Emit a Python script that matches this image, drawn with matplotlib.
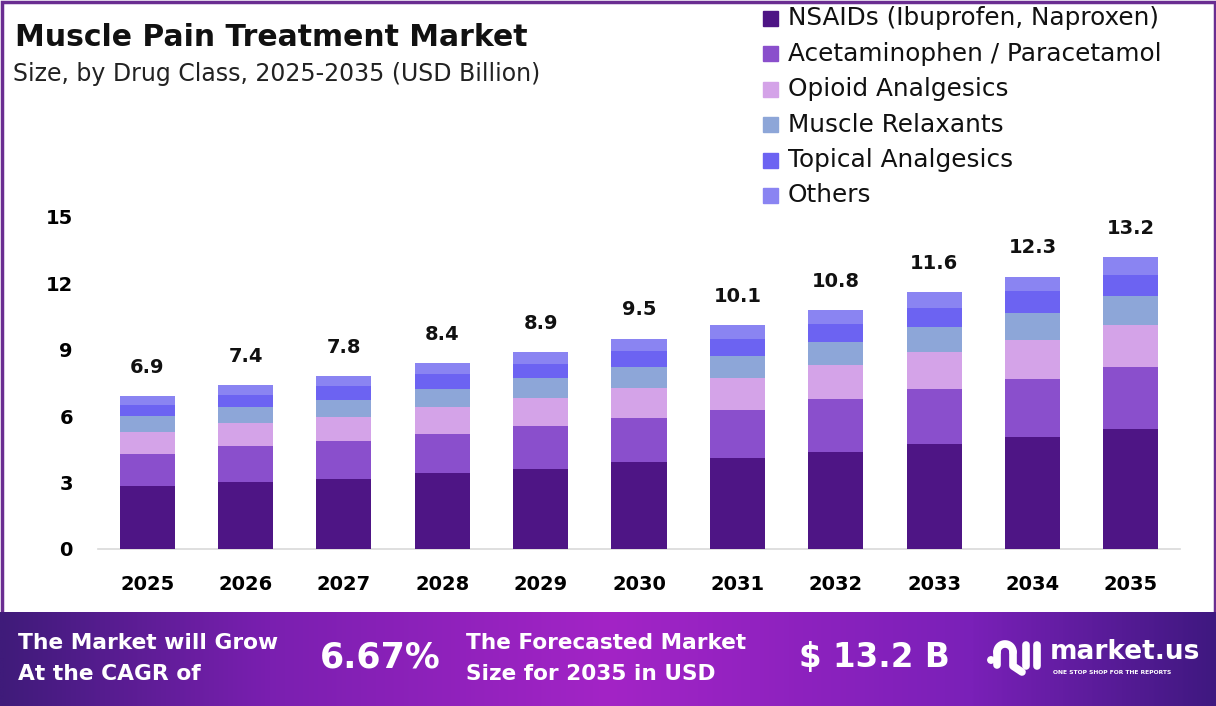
import matplotlib
matplotlib.use("Agg")
import matplotlib.pyplot as plt
import numpy as np
from matplotlib.patches import Rectangle, Circle
from matplotlib.colors import LinearSegmentedColormap

years = ["2025", "2026", "2027", "2028", "2029", "2030", "2031", "2032", "2033", "2034", "2035"]
totals = [6.9, 7.4, 7.8, 8.4, 8.9, 9.5, 10.1, 10.8, 11.6, 12.3, 13.2]
nsaids = [2.85, 3.03, 3.18, 3.42, 3.63, 3.91, 4.12, 4.40, 4.74, 5.04, 5.43]
acetaminophen = [1.45, 1.61, 1.68, 1.78, 1.91, 2.00, 2.17, 2.36, 2.51, 2.65, 2.81]
opioid = [1.00, 1.06, 1.09, 1.23, 1.28, 1.37, 1.45, 1.55, 1.65, 1.77, 1.88]
muscle_relaxants = [0.70, 0.73, 0.77, 0.82, 0.91, 0.95, 1.00, 1.04, 1.14, 1.21, 1.29]
topical = [0.50, 0.55, 0.63, 0.64, 0.63, 0.72, 0.77, 0.82, 0.87, 0.98, 0.96]
others = [0.40, 0.42, 0.45, 0.51, 0.54, 0.55, 0.59, 0.63, 0.69, 0.65, 0.83]

series_names = ["NSAIDs (Ibuprofen, Naproxen)", "Acetaminophen / Paracetamol",
                "Opioid Analgesics", "Muscle Relaxants", "Topical Analgesics", "Others"]
series = [nsaids, acetaminophen, opioid, muscle_relaxants, topical, others]
colors = ["#4E1585", "#8A4FCC", "#D4A3E8", "#8DA6D8", "#6C63F2", "#8A84F2"]
yticks = [0, 3, 6, 9, 12, 15]

FONT = ["DejaVu Sans"]
plt.rcParams["font.family"] = FONT

W, H = 1216, 706
fig = plt.figure(figsize=(W / 100, H / 100), dpi=100)
fig.patch.set_facecolor("white")

def fx(px):
    return px / W

def fy(py):
    return 1 - py / H

# outer purple frame
frame = fig.add_axes([0, 0, 1, 1], zorder=-5)
frame.set_xlim(0, W)
frame.set_ylim(H, 0)
frame.axis("off")
frame.add_patch(Rectangle((1.5, 1.5), W - 3, 612, fill=False, edgecolor="#6A2D91", lw=2.5))

# bottom banner gradient
ban = fig.add_axes([0, 0, 1, fy(612)], zorder=-4)
grad = np.linspace(0, 1, 512)[None, :]
cmap = LinearSegmentedColormap.from_list(
    "ban", [(0, "#3F1B7A"), (0.22, "#7A1FB0"), (0.5, "#A324C6"), (0.8, "#7A20B8"), (1.0, "#3F1880")])
ban.imshow(grad, aspect="auto", cmap=cmap, extent=[0, 1, 0, 1])
ban.axis("off")

# overlay axes for logo shapes (above banner)
top = fig.add_axes([0, 0, 1, 1], zorder=5)
top.set_xlim(0, W)
top.set_ylim(H, 0)
top.axis("off")

# main axes
ax = fig.add_axes([fx(98), fy(549), fx(1180) - fx(98), fy(217) - fy(549)])
x = np.arange(len(years))
bottom = np.zeros(len(years))
for vals, col, name in zip(series, colors, series_names):
    ax.bar(x, vals, width=0.56, bottom=bottom, color=col, label=name, zorder=3)
    bottom += np.array(vals)
for xi, t in zip(x, totals):
    ax.text(xi, bottom[xi] + 1.3, f"{t}", ha="center", va="center",
            fontsize=14, fontweight="bold", color="#111111", clip_on=False)

ax.set_xlim(-0.5, len(years) - 0.5)
ax.set_ylim(0, 15)
ax.set_yticks(yticks)
ax.set_yticklabels([str(v) for v in yticks], fontsize=14, fontweight="bold")
ax.set_xticks(x)
ax.set_xticklabels(years, fontsize=14, fontweight="bold")
ax.tick_params(axis="y", length=0, pad=18)
ax.tick_params(axis="x", length=0, pad=19)
for s in ["top", "right", "left"]:
    ax.spines[s].set_visible(False)
ax.spines["bottom"].set_color("#D9D9D9")
ax.spines["bottom"].set_linewidth(1.2)
ax.set_facecolor("none")

# title
fig.text(fx(15), fy(37), "Muscle Pain Treatment Market", fontsize=21.5, fontweight="bold",
         ha="left", va="center", color="#111111")
fig.text(fx(13), fy(74), "Size, by Drug Class, 2025-2035 (USD Billion)", fontsize=17,
         ha="left", va="center", color="#222222")

# legend (manual)
ly0, ldy = 18, 35.5
for i, (name, col) in enumerate(zip(series_names, colors)):
    cy = ly0 + i * ldy
    frame.add_patch(Rectangle((763, cy - 7.5), 15, 15, color=col))
    frame.text(788, cy, name, fontsize=17.8, ha="left", va="center", color="#111111")

# banner texts
fig.text(fx(18), fy(643), "The Market will Grow", fontsize=15.7, fontweight="bold", color="white",
         ha="left", va="center")
fig.text(fx(18), fy(674), "At the CAGR of", fontsize=15.7, fontweight="bold", color="white",
         ha="left", va="center")
fig.text(fx(380), fy(658), "6.67%", fontsize=25, fontweight="bold", color="white",
         ha="center", va="center")
fig.text(fx(466), fy(643), "The Forecasted Market", fontsize=15.6, fontweight="bold", color="white",
         ha="left", va="center")
fig.text(fx(466), fy(674), "Size for 2035 in USD", fontsize=15.6, fontweight="bold", color="white",
         ha="left", va="center")
fig.text(fx(874), fy(658), "$ 13.2 B", fontsize=23.5, fontweight="bold", color="white",
         ha="center", va="center")
fig.text(fx(1050), fy(652), "market.us", fontsize=19, fontweight="bold", color="white",
         ha="left", va="center")
fig.text(fx(1053), fy(672), "ONE STOP SHOP FOR THE REPORTS", fontsize=4.3, fontweight="bold",
         color="white", ha="left", va="center")

# logo icon (shape)
lw = 5.5
top.add_patch(Circle((991, 660), 3.2, color="white"))
t = np.linspace(np.pi, 0, 40)
top.plot(1005 + 8 * np.cos(t), 652 - 8 * np.sin(t), color="white", lw=lw, solid_capstyle="round")
top.plot([997, 997], [652, 665], color="white", lw=lw, solid_capstyle="round")
top.plot([1013, 1013, 1022], [652, 666, 672], color="white", lw=lw, solid_capstyle="round")
top.plot([1026, 1026], [645, 666], color="white", lw=lw, solid_capstyle="round")
top.plot([1037, 1037], [645, 666], color="white", lw=lw, solid_capstyle="round")

fig.savefig("out.png", dpi=100, facecolor=fig.get_facecolor())
